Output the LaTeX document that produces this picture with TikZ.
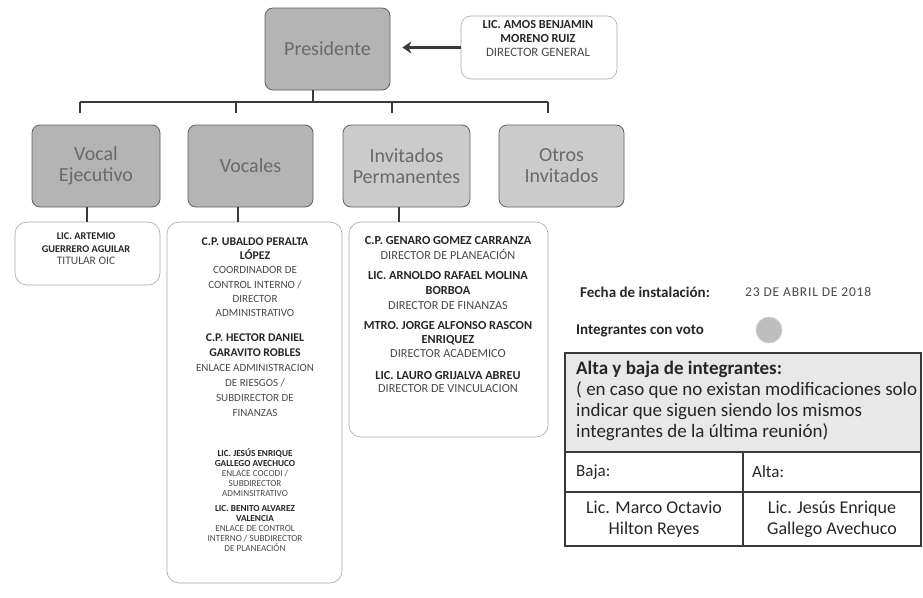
\documentclass[tikz,border=0pt]{standalone}
\usepackage{fontspec}
\setmainfont{Carlito}
\usetikzlibrary{arrows.meta}
\definecolor{boxdark}{HTML}{B4B4B4}
\definecolor{boxlight}{HTML}{CBCBCB}
\definecolor{boxtxt}{HTML}{6A6A6A}
\definecolor{ink}{HTML}{262626}
\definecolor{inkl}{HTML}{4A4A4A}
\definecolor{linec}{HTML}{3A3A3A}
\definecolor{thinb}{HTML}{A8A8A8}
\definecolor{hdr}{HTML}{E8E8E8}
\definecolor{dotc}{HTML}{BEBEBE}
\begin{document}
\begin{tikzpicture}[x=1pt,y=-1pt,
 rolebox/.style={draw=linec!80, line width=0.8pt, rounded corners=8pt, inner sep=0pt, align=center, text=boxtxt, font=\fontsize{20}{21}\selectfont},
 namebox/.style={draw=thinb, line width=0.6pt, rounded corners=12pt, inner sep=0pt, fill=white},
 conn/.style={draw=linec, line width=1.1pt},
 ppl/.style={inner sep=0pt, align=center, text=ink, anchor=north},
 cell/.style={draw=linec, line width=1.1pt, inner sep=0pt},
 ttxt/.style={inner sep=0pt, text=ink, font=\fontsize{19}{21}\selectfont},
]
\useasboundingbox (0,0) rectangle (923,597);
\fill[white] (0,0) rectangle (923,597);

% top
\node[rolebox, fill=boxdark, minimum width=125pt, minimum height=82pt] (pres) at (327.5,49) {Presidente};
\node[namebox, rounded corners=10pt, minimum width=156pt, minimum height=63pt] (lic) at (539,47.5) {};
\node[ppl, font=\fontsize{12.3}{14}\selectfont] (lict) at (538,20) {\textbf{LIC. AMOS BENJAMIN}\\\textbf{MORENO RUIZ}\\{\color{inkl}\fontsize{12.8}{14}\selectfont DIRECTOR GENERAL}};
\draw[line width=3pt, draw=linec, -{Stealth[length=9pt,width=12pt]}] (lic.west) -- ([xshift=12pt]pres.east |- lic.west);

% level 2
\node[rolebox, fill=boxdark, minimum width=128pt, minimum height=82pt] (ve) at (96,166) {Vocal\\Ejecutivo};
\node[rolebox, fill=boxdark, minimum width=125pt, minimum height=82pt] (voc) at (250.5,166) {Vocales};
\node[rolebox, fill=boxlight, minimum width=127pt, minimum height=82pt] (inv) at (406.5,166) {Invitados\\Permanentes};
\node[rolebox, fill=boxlight, minimum width=125pt, minimum height=82pt] (otr) at (561.5,166) {Otros\\Invitados};

% bus
\coordinate (pdrop) at (313,102);
\coordinate (busL) at (80,102);
\coordinate (busR) at (548,102);
\coordinate (d1) at (80,113);
\coordinate (d2) at (236,113);
\coordinate (d3) at (392,113);
\coordinate (d4) at (548,113);
\draw[conn] (pres.south -| pdrop) -- (pdrop);
\draw[conn] (busL) -- (busR);
\draw[conn] (d1 |- busL) -- (d1);
\draw[conn] (d2 |- busL) -- (d2);
\draw[conn] (d3 |- busL) -- (d3);
\draw[conn] (d4 |- busL) -- (d4);

% child boxes
\node[namebox, minimum width=145pt, minimum height=63pt] (veN) at (87.5,253.5) {};
\node[namebox, minimum width=175pt, minimum height=361pt] (vocN) at (254.5,402.5) {};
\node[namebox, minimum width=199pt, minimum height=215pt] (invN) at (448.5,329.5) {};
\coordinate (c1) at (87,222);
\coordinate (c2) at (238,222);
\coordinate (c3) at (399,222);
\draw[conn] (ve.south -| c1) -- (c1 |- veN.north);
\draw[conn] (voc.south -| c2) -- (c2 |- vocN.north);
\draw[conn] (inv.south -| c3) -- (c3 |- invN.north);

% names
\node[ppl, font=\fontsize{10.3}{12.5}\selectfont] (ve1) at (86,233) {\textbf{LIC. ARTEMIO}\\\textbf{GUERRERO AGUILAR}\\{\color{inkl}\fontsize{11.5}{12.5}\selectfont TITULAR OIC}};

\node[ppl, font=\fontsize{11.8}{14.2}\selectfont] (vo1) at (255,237.5) {\textbf{C.P. UBALDO PERALTA}\\\textbf{LÓPEZ}\\{\color{inkl}\fontsize{11}{14.2}\selectfont COORDINADOR DE}\\{\color{inkl}\fontsize{11}{14.2}\selectfont CONTROL INTERNO /}\\{\color{inkl}\fontsize{11}{14.2}\selectfont DIRECTOR}\\{\color{inkl}\fontsize{11}{14.2}\selectfont ADMINISTRATIVO}};
\node[ppl, font=\fontsize{11.8}{15}\selectfont] (vo2) at (255,333.5) {\textbf{C.P. HECTOR DANIEL}\\\textbf{GARAVITO ROBLES}\\{\color{inkl}\fontsize{11}{15}\selectfont ENLACE ADMINISTRACION}\\{\color{inkl}\fontsize{11}{15}\selectfont DE RIESGOS /}\\{\color{inkl}\fontsize{11}{15}\selectfont SUBDIRECTOR DE}\\{\color{inkl}\fontsize{11}{15}\selectfont FINANZAS}};
\node[ppl, font=\fontsize{9.2}{10}\selectfont] (vo3) at (255,448.5) {\textbf{LIC. JESÚS ENRIQUE}\\\textbf{GALLEGO AVECHUCO}\\{\color{inkl}ENLACE COCODI /}\\{\color{inkl}SUBDIRECTOR}\\{\color{inkl}ADMINSITRATIVO}};
\node[ppl, font=\fontsize{9.2}{10}\selectfont] (vo4) at (255,505) {\textbf{LIC. BENITO ALVAREZ}\\\textbf{VALENCIA}\\{\color{inkl}ENLACE DE CONTROL}\\{\color{inkl}INTERNO / SUBDIRECTOR}\\{\color{inkl}DE PLANEACIÓN}};

\node[ppl, font=\fontsize{12.3}{15}\selectfont] (iv1) at (448,236) {\textbf{C.P. GENARO GOMEZ CARRANZA}\\{\color{inkl}DIRECTOR DE PLANEACIÓN}};
\node[ppl, font=\fontsize{12.3}{15}\selectfont] (iv2) at (448,271) {\textbf{LIC. ARNOLDO RAFAEL MOLINA}\\\textbf{BORBOA}\\{\color{inkl}DIRECTOR DE FINANZAS}};
\node[ppl, font=\fontsize{12.3}{14}\selectfont] (iv3) at (448,321) {\textbf{MTRO. JORGE ALFONSO RASCON}\\\textbf{ENRIQUEZ}\\{\color{inkl}DIRECTOR ACADEMICO}};
\node[ppl, font=\fontsize{12.3}{13}\selectfont] (iv4) at (448,371) {\textbf{LIC. LAURO GRIJALVA ABREU}\\{\color{inkl}DIRECTOR DE VINCULACION}};

% right side
\node[inner sep=0pt, anchor=west, text=ink, font=\fontsize{15}{18}\selectfont\bfseries] (fecha) at (580,292) {Fecha de instalación:};
\node[inner sep=0pt, anchor=west, text=inkl, font=\fontsize{13.5}{14}\selectfont\addfontfeatures{LetterSpace=6}] (fval) at (745,292) {23 DE ABRIL DE 2018};
\node[inner sep=0pt, anchor=west, text=ink, font=\fontsize{15}{18}\selectfont\bfseries] (voto) at (576,331) {Integrantes con voto};
\node[circle, fill=dotc, draw=dotc!70, line width=0.8pt, minimum size=26pt, inner sep=0pt] (dot) at (769,330) {};

% table
\node[cell, fill=hdr, minimum width=356pt, minimum height=99pt] (thead) at (743,402.5) {};
\node[cell, minimum width=178pt, minimum height=40pt] (tbaja) at (654,472) {};
\node[cell, minimum width=178pt, minimum height=40pt] (talta) at (832,472) {};
\node[cell, minimum width=178pt, minimum height=54pt] (tn1) at (654,519) {};
\node[cell, minimum width=178pt, minimum height=54pt] (tn2) at (832,519) {};

\node[ttxt, anchor=north west, align=left] (thtxt) at (576,361) {\textbf{Alta y baja de integrantes:}\\( en caso que no existan modificaciones solo\\indicar que siguen siendo los mismos\\integrantes de la última reunión)};
\node[ttxt, anchor=west, font=\fontsize{17}{20}\selectfont] (bj) at (576,472) {Baja:};
\node[ttxt, anchor=west, font=\fontsize{17}{20}\selectfont] (al) at (752,472) {Alta:};
\node[ttxt, align=center, font=\fontsize{18}{21}\selectfont] (n1) at (tn1.center) {Lic. Marco Octavio\\Hilton Reyes};
\node[ttxt, align=center, font=\fontsize{18}{21}\selectfont] (n2) at (tn2.center) {Lic. Jesús Enrique\\Gallego Avechuco};
\end{tikzpicture}
\end{document}
